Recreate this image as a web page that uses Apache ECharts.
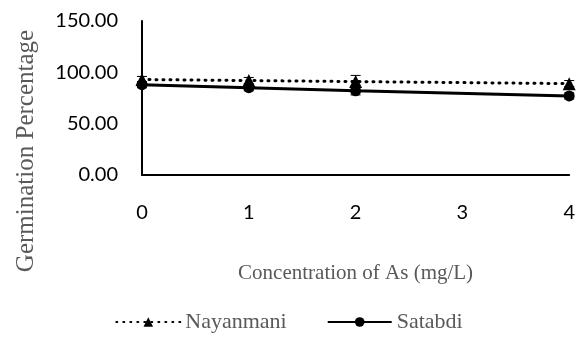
<!DOCTYPE html>
<html>
<head>
<meta charset="utf-8">
<script src="https://cdn.jsdelivr.net/npm/echarts@6/dist/echarts.min.js"></script>
<style>
html, body { margin: 0; padding: 0; background: #fff; }
#main { width: 578px; height: 340px; }
</style>
</head>
<body>
<div id="main"></div>
<script>
// data
var concentrations = [0, 1, 2, 4];
var nayanmani = [93, 92, 91, 89];
var nayanmaniErr = [3, 3, 6, 3];
var satabdi = [88, 85, 82, 77];
var satabdiErr = [3, 3, 4, 3];
var yTicks = [0, 50, 100, 150];

var myChart = echarts.init(document.getElementById('main'));

function errData(xs, ys, es) {
    var out = [];
    for (var i = 0; i < xs.length; i++) {
        out.push([xs[i], ys[i] - es[i], ys[i] + es[i]]);
    }
    return out;
}

function errRender(params, api) {
    var lo = api.coord([api.value(0), api.value(1)]);
    var hi = api.coord([api.value(0), api.value(2)]);
    var w = 5;
    var st = { stroke: '#000', lineWidth: 1 };
    return {
        type: 'group',
        children: [
            { type: 'line', shape: { x1: lo[0], y1: lo[1], x2: hi[0], y2: hi[1] }, style: st },
            { type: 'line', shape: { x1: lo[0] - w, y1: lo[1], x2: lo[0] + w, y2: lo[1] }, style: st },
            { type: 'line', shape: { x1: hi[0] - w, y1: hi[1], x2: hi[0] + w, y2: hi[1] }, style: st }
        ]
    };
}

function pairs(xs, ys) {
    return xs.map(function (x, i) { return [x, ys[i]]; });
}

var option = {
    animation: false,
    grid: { left: 142, right: 6, top: 21, bottom: 165 },
    // y title sits lower than the plot centre in the original
    graphic: [{
        type: 'text',
        x: 26, y: 151,
        rotation: Math.PI / 2,
        style: {
            text: 'Germination Percentage',
            fontFamily: 'Liberation Serif', fontSize: 25, fill: '#595959',
            align: 'center', verticalAlign: 'middle'
        }
    }],
    xAxis: {
        type: 'value',
        min: 0, max: 4, interval: 1,
        name: 'Concentration of As (mg/L)',
        nameLocation: 'middle',
        nameGap: 88,
        nameTextStyle: { fontFamily: 'Liberation Serif', fontSize: 21, color: '#595959' },
        axisLine: { lineStyle: { color: '#000', width: 2 } },
        axisTick: { show: false },
        splitLine: { show: false },
        axisLabel: { margin: 28, fontFamily: 'Lato', fontSize: 20, color: '#000' }
    },
    yAxis: {
        type: 'value',
        min: yTicks[0], max: yTicks[yTicks.length - 1], interval: 50,
        axisLine: { show: true, lineStyle: { color: '#000', width: 2 } },
        axisTick: { show: false },
        splitLine: { show: false },
        axisLabel: {
            margin: 24, fontFamily: 'Lato', fontSize: 20, color: '#000',
            formatter: function (v) { return v.toFixed(2); }
        }
    },
    legend: {
        bottom: 2,
        left: 'center',
        itemWidth: 64,
        itemHeight: 12,
        itemGap: 40,
        textStyle: { fontFamily: 'Liberation Serif', fontSize: 22, color: '#595959' },
        data: ['Nayanmani', 'Satabdi']
    },
    series: [{
        name: 'Nayanmani',
        type: 'line',
        data: pairs(concentrations, nayanmani),
        symbol: 'triangle',
        symbolSize: 13,
        itemStyle: { color: '#000' },
        lineStyle: { color: '#000', width: 3, type: [1, 6], cap: 'round' }
    }, {
        name: 'Satabdi',
        type: 'line',
        data: pairs(concentrations, satabdi),
        symbol: 'circle',
        symbolSize: 11,
        itemStyle: { color: '#000' },
        lineStyle: { color: '#000', width: 3 }
    }, {
        type: 'custom',
        renderItem: errRender,
        data: errData(concentrations, nayanmani, nayanmaniErr),
        z: 3
    }, {
        type: 'custom',
        renderItem: errRender,
        data: errData(concentrations, satabdi, satabdiErr),
        z: 3
    }]
};

myChart.setOption(option);
</script>
</body>
</html>
